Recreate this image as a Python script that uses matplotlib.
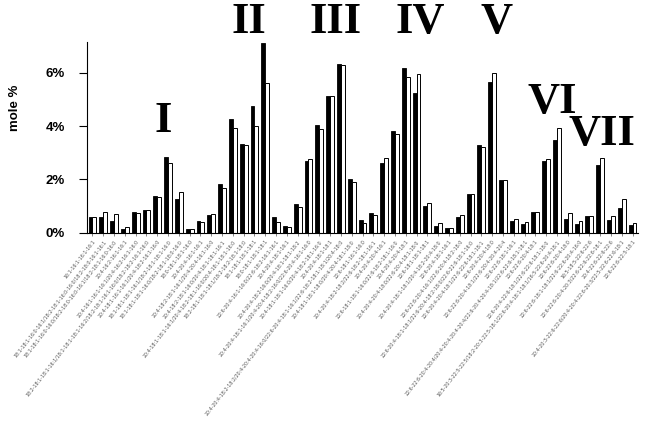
import matplotlib
matplotlib.use("Agg")
import matplotlib.pyplot as plt
import numpy as np
from matplotlib.ticker import FuncFormatter

# ---- data ----
labels = [
    "16:1-16:1-16:1-16:1",
    "18:1-18:1-16:0-16:1/18:2-18:1-16:0-16:0/18:2-18:0-16:1-16:1",
    "18:1-18:1-16:0-16:0/18:2-18:0-16:0-16:1/18:2-18:1-16:0-16:0",
    "20:4-16:2-16:1-16:1",
    "20:4-16:1-16:1-16:1/20:4-16:2-16:1-16:0",
    "18:2-18:1-18:1-16:1/18:1-18:1-18:1-16:2/18:2-18:1-16:1-16:0/18:2-18:2-16:1-16:0",
    "20:4-18:1-16:1-16:1/20:4-18:2-16:1-16:0",
    "18:1-18:1-18:1-16:1/18:2-18:1-18:1-16:0",
    "18:1-18:1-18:1-16:0/18:2-18:1-18:0-16:0",
    "18:0-18:1-18:1-16:0",
    "20:4-20:4-16:1-16:1",
    "20:4-18:2-18:1-16:1/20:4-20:4-16:1-16:0",
    "20:4-18:2-18:1-16:0/20:4-18:1-18:1-16:1",
    "20:4-18:1-18:1-16:1/20:4-18:2-18:1-16:0/20:4-18:1-18:1-16:0",
    "18:2-18:1-18:1-18:1/18:2-18:2-18:1-18:0",
    "18:1-18:1-18:1-18:1",
    "18:0-18:1-18:1-18:1",
    "22:6-20:4-16:1-16:0/22:6-18:2-16:1-16:1",
    "20:4-20:4-18:1-16:1",
    "20:4-20:4-18:2-16:0/20:4-18:1-18:1-18:2",
    "20:4-20:4-18:1-16:1/20:4-20:4-18:2-16:0/22:6-20:4-16:1-16:0",
    "20:4-18:1-18:1-16:0/20:4-18:2-18:1-16:0",
    "20:4-20:4-18:1-18:1",
    "20:4-20:4-18:2-18:2/20:4-20:4-20:4-16:0/22:6-20:4-18:1-16:1/22:6-18:2-18:1-18:1/20:4-18:0",
    "20:4-18:1-18:1-18:0/20:4-20:4-18:1-18:0",
    "22:6-18:1-16:1-16:0",
    "20:4-20:4-18:2-18:2/22:6-18:2-18:1-16:1",
    "20:4-20:4-20:4-16:1",
    "22:6-18:1-18:1-16:0/22:6-18:2-18:1-16:0",
    "20:4-20:4-20:4-18:1",
    "20:4-20:4-20:4-18:0/22:6-20:4-18:1-18:0",
    "22:6-18:1-18:1-18:1",
    "20:4-20:4-18:1-18:1/20:4-18:2-20:4-18:0",
    "22:6-20:4-18:1-16:1",
    "22:6-22:6-20:4-16:1/22:6-20:4-18:2-18:0",
    "22:6-20:4-18:1-18:1/22:6-20:4-18:2-18:0/22:6-22:6-18:1-16:0",
    "22:6-20:4-20:4-18:1/22:6-22:6-18:1-18:1",
    "22:6-20:4-20:4-18:0",
    "22:6-22:6-20:4-18:1/22:6-20:4-20:4-20:4",
    "22:6-22:6-18:1-16:1",
    "22:6-22:6-20:4-20:4/20:4-20:4-20:4-20:4/22:6-20:4-20:4-18:1/22:6-22:6-18:1-18:1",
    "22:6-22:6-20:4-18:1",
    "22:6-20:4-22:6-18:1/22:6-22:6-18:1-18:0",
    "16:5-20:3-22:5-22:5/18:2-20:3-22:5-18:1/22:6-20:4-18:1-18:1/16:5-22:6-20:4-18:1",
    "22:6-22:6-20:4-18:0",
    "22:6-22:6-18:1-18:1/22:6-22:6-20:4-16:0",
    "16:5-18:5-22:6-22:6",
    "22:6-22:6-20:4-20:3/22:6-22:6-22:6-18:1",
    "20:4-22:6-22:6-22:6",
    "20:4-20:3-22:6-22:6/20:4-20:4-22:6-20:3/22:5-22:6-22:6-18:1",
    "22:6-22:6-22:5-18:1",
]

black_vals = [0.58, 0.58, 0.45, 0.15, 0.77, 0.84, 1.36, 2.82, 1.28, 0.15,
              0.43, 0.68, 1.81, 4.25, 3.32, 4.74, 7.12, 0.57, 0.26, 1.07,
              2.68, 4.04, 5.13, 6.33, 2.03, 0.47, 0.74, 2.62, 3.80, 6.19,
              5.23, 1.01, 0.26, 0.16, 0.60, 1.45, 3.28, 5.64, 1.96, 0.45,
              0.34, 0.79, 2.70, 3.46, 0.53, 0.31, 0.63, 2.55, 0.48, 0.94,
              0.29]
white_vals = [0.58, 0.78, 0.70, 0.20, 0.74, 0.84, 1.33, 2.60, 1.53, 0.15,
              0.40, 0.70, 1.66, 3.94, 3.30, 4.00, 5.60, 0.39, 0.20, 0.98,
              2.78, 3.90, 5.11, 6.28, 1.90, 0.36, 0.68, 2.79, 3.70, 5.82,
              5.96, 1.13, 0.38, 0.19, 0.67, 1.45, 3.22, 5.97, 1.96, 0.53,
              0.39, 0.79, 2.78, 3.94, 0.73, 0.42, 0.63, 2.80, 0.64, 1.26,
              0.38]

group_names = ["I", "II", "III", "IV", "V", "VI", "VII"]
group_pos_px = [(163, 132), (249, 33), (336, 33), (420, 33), (497, 33), (552, 113), (602, 145)]

W, H = 645, 428
fig = plt.figure(figsize=(W / 100, H / 100), dpi=100)
ax = fig.add_axes([87 / W, 1 - 232.7 / H, (638 - 87) / W, (232.7 - 42) / H])

x = np.arange(len(labels))
bw = 0.36
ax.bar(x - bw / 2, black_vals, width=bw, color="black", edgecolor="black", linewidth=0.6)
ax.bar(x + bw / 2, white_vals, width=bw, color="white", edgecolor="black", linewidth=0.7)

ax.set_xlim(-0.5, len(labels) - 0.5)
ax.set_ylim(0, 7.15)
ax.set_yticks([0, 2, 4, 6])
ax.yaxis.set_major_formatter(FuncFormatter(lambda v, p: f"{v:.0f}%"))
for t in ax.get_yticklabels():
    t.set_fontfamily("Liberation Sans")
    t.set_fontweight("bold")
    t.set_fontsize(9.5)
ax.tick_params(axis="y", length=6, width=0.8, pad=10)

ax.set_xticks(x)
ax.set_xticklabels(labels, rotation=52, ha="right", rotation_mode="anchor",
                   fontsize=3.4, color="#555555")
ax.tick_params(axis="x", length=2.5, width=0.5, pad=2, colors="#555555", labelcolor="#555555")

for s in ["top", "right"]:
    ax.spines[s].set_visible(False)
ax.spines["left"].set_linewidth(0.8)
ax.spines["bottom"].set_linewidth(0.8)

fig.text(15 / W, 1 - 108 / H, "mole %", rotation=90, ha="center", va="center",
         fontsize=9.5, fontweight="bold", family="Liberation Sans")

for name, (px, py) in zip(group_names, group_pos_px):
    fig.text(px / W, 1 - py / H, name, ha="center", va="baseline",
             fontsize=32, fontweight="bold", family="Liberation Serif")

fig.savefig("out.png", dpi=100)
